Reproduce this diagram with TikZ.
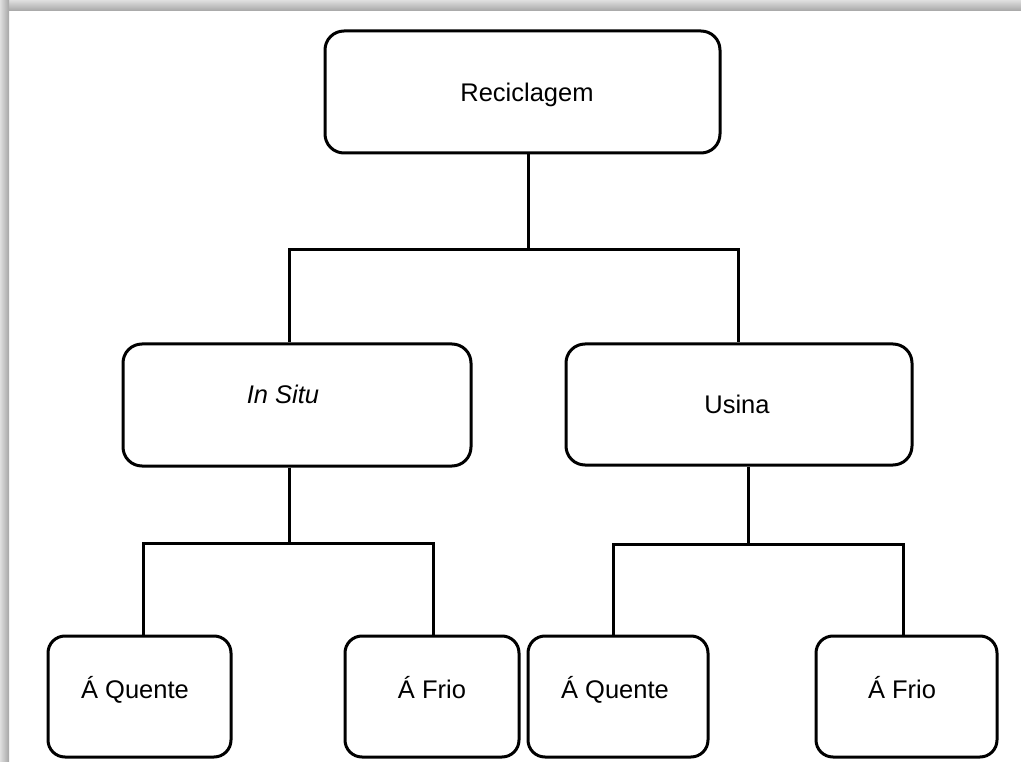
\documentclass[tikz,border=0pt]{standalone}
\usepackage{fontspec}
\setmainfont{Liberation Sans}
\begin{document}
\begin{tikzpicture}[x=1pt,y=-1pt,
  box/.style={draw=black,line width=3pt,rounded corners=19pt,inner sep=0pt,fill=white},
  lbl/.style={anchor=base,inner sep=0pt,font=\fontsize{25.5}{30}\selectfont},
  conn/.style={draw=black,line width=3pt,line join=miter}]
\useasboundingbox (0,0) rectangle (1021,762);
% shadow of the page frame
\shade[top color=gray!25,bottom color=gray!70] (0,0) rectangle (1021,11);
\shade[left color=gray!25,right color=gray!70] (0,0) rectangle (9,762);
% boxes
\node[box,minimum width=395pt,minimum height=122pt] (rec) at (522.5,92) {};
\node[box,minimum width=348pt,minimum height=122pt] (ins) at (297,405) {};
\node[box,minimum width=346pt,minimum height=121pt] (usi) at (739,404.5) {};
\node[box,minimum width=183pt,minimum height=121pt,rounded corners=17pt] (q1) at (139.5,696.5) {};
\node[box,minimum width=174pt,minimum height=121pt,rounded corners=17pt] (f1) at (432,696.5) {};
\node[box,minimum width=180pt,minimum height=121pt,rounded corners=17pt] (q2) at (618,696.5) {};
\node[box,minimum width=181pt,minimum height=121pt,rounded corners=17pt] (f2) at (906.5,696.5) {};
% labels
\node[lbl] (trec) at (527,102) {Reciclagem};
\node[lbl] (tins) at (283,403) {\itshape In Situ};
\node[lbl] (tusi) at (737,413) {Usina};
\node[lbl] (tq1) at (135,698) {Á Quente};
\node[lbl] (tf1) at (432,698) {Á Frio};
\node[lbl] (tq2) at (615,698) {Á Quente};
\node[lbl] (tf2) at (902,698) {Á Frio};
% junction coordinates
\coordinate (j0) at (528,250);
\coordinate (a1) at (289,250);
\coordinate (a2) at (738,250);
\coordinate (j1) at (289,543);
\coordinate (b1) at (143,543);
\coordinate (b2) at (433,543);
\coordinate (j2) at (748,544);
\coordinate (c1) at (613,544);
\coordinate (c2) at (903,544);
% connectors
\draw[conn] (rec.south -| j0) -- (j0);
\draw[conn] (ins.north -| a1) -- (a1) -- (a2) -- (usi.north -| a2);
\draw[conn] (ins.south -| j1) -- (j1);
\draw[conn] (q1.north -| b1) -- (b1) -- (b2) -- (f1.north -| b2);
\draw[conn] (usi.south -| j2) -- (j2);
\draw[conn] (q2.north -| c1) -- (c1) -- (c2) -- (f2.north -| c2);
\end{tikzpicture}
\end{document}
